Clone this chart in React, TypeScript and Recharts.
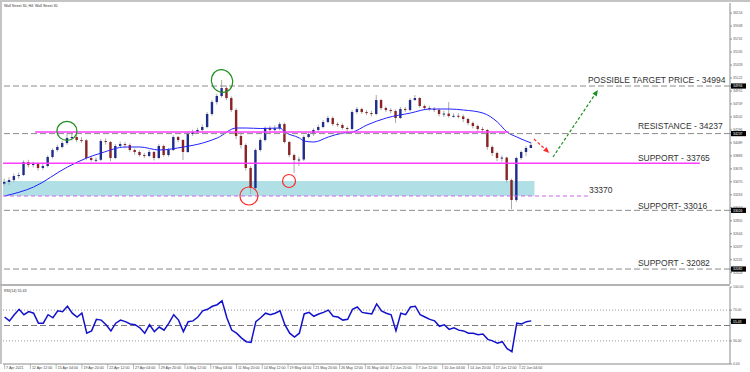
import {
  ComposedChart,
  Bar,
  Line,
  XAxis,
  YAxis,
  ReferenceLine,
  ReferenceArea,
  ReferenceDot,
} from "recharts";

// H4 candles, one every 3 bars
const opens = [
  33440, 33467, 33498, 33562, 33578, 33785, 33737, 33753, 33690, 33721,
  33865, 33976, 34024, 34087, 34167, 34183, 34135, 34130, 33849, 33817,
  33820, 34119, 34103, 33849, 34040, 34071, 34055, 33976, 33944, 33896,
  33881, 33944, 33849, 34040, 33896, 33976, 34183, 34135, 33944, 34230,
  34262, 34294, 34342, 34549, 34739, 34835, 34962, 34803, 34612, 34199,
  34055, 33690, 33371, 33976, 34135, 34326, 34294, 34320, 34389, 34103,
  33896, 33817, 33825, 34183, 34230, 34294, 34342, 34421, 34485, 34389,
  34374, 34326, 34310, 34580, 34628, 34580, 34564, 34549, 34771, 34644,
  34612, 34596, 34485, 34628, 34612, 34771, 34803, 34676, 34644, 34628,
  34612, 34549, 34555, 34517, 34520, 34510, 34469, 34405, 34358, 34310,
  34294, 34024, 33928, 33849, 33855, 33498, 33180, 33849, 33944, 34008,
];
const closes = [
  33467, 33498, 33562, 33578, 33785, 33737, 33753, 33690, 33721, 33865,
  33976, 34024, 34087, 34167, 34183, 34135, 34130, 33849, 33817, 33820,
  34119, 34103, 33849, 34040, 34071, 34055, 33976, 33944, 33896, 33881,
  33944, 33849, 34040, 33896, 33976, 34183, 34135, 33944, 34230, 34262,
  34294, 34342, 34549, 34739, 34835, 34962, 34803, 34612, 34199, 34055,
  33690, 33371, 33976, 34135, 34326, 34294, 34320, 34389, 34103, 33896,
  33817, 33825, 34183, 34230, 34294, 34342, 34421, 34485, 34389, 34374,
  34326, 34310, 34580, 34628, 34580, 34564, 34549, 34771, 34644, 34612,
  34596, 34485, 34628, 34612, 34771, 34803, 34676, 34644, 34628, 34612,
  34549, 34555, 34517, 34520, 34510, 34469, 34405, 34358, 34310, 34294,
  34024, 33928, 33849, 33855, 33498, 33180, 33849, 33944, 34008, 34055,
];
const highs = [
  33520, 33540, 33600, 33620, 33810, 33820, 33790, 33780, 33760, 33890,
  34000, 34060, 34120, 34240, 34262, 34220, 34180, 34150, 33880, 33860,
  34150, 34160, 34120, 34070, 34110, 34100, 34080, 34000, 33970, 33930,
  33980, 33960, 34070, 34060, 34010, 34210, 34200, 34150, 34260, 34300,
  34330, 34380, 34580, 34770, 34870, 35089, 35000, 34830, 34640, 34230,
  34080, 33720, 34000, 34170, 34350, 34360, 34370, 34420, 34410, 34120,
  33920, 33870, 34210, 34260, 34320, 34380, 34450, 34520, 34510, 34420,
  34400, 34350, 34610, 34660, 34650, 34610, 34600, 34851, 34790, 34670,
  34640, 34620, 34660, 34660, 34800, 34851, 34820, 34700, 34680, 34660,
  34640, 34600, 34739, 34560, 34560, 34540, 34490, 34430, 34380, 34340,
  34310, 34050, 33950, 33890, 33870, 33520, 33870, 33970, 34040, 34080,
];
const lows = [
  33410, 33419, 33470, 33520, 33560, 33700, 33700, 33650, 33660, 33700,
  33840, 33950, 34000, 34060, 34130, 34100, 34090, 33820, 33790, 33780,
  33800, 34060, 33800, 33830, 34010, 34000, 33950, 33900, 33870, 33850,
  33860, 33810, 33830, 33870, 33870, 33960, 34100, 33817, 33930, 34200,
  34240, 34270, 34320, 34520, 34700, 34810, 34770, 34580, 34150, 34000,
  33650, 33280, 33340, 33950, 34110, 34250, 34270, 34290, 34080, 33860,
  33610, 33720, 33800, 34160, 34200, 34270, 34320, 34400, 34360, 34340,
  34300, 34270, 34290, 34550, 34550, 34530, 34510, 34530, 34610, 34580,
  34560, 34405, 34470, 34580, 34590, 34760, 34650, 34610, 34600, 34580,
  34510, 34500, 34490, 34490, 34480, 34420, 34370, 34320, 34280, 34250,
  33980, 33880, 33800, 33790, 33460, 33037, 33150, 33820, 33880, 34020,
];

// moving average (sampled)
const maBars = [
  0, 18, 39, 51, 60, 75, 84, 96, 111, 123, 132, 144, 150, 159, 171, 174, 183,
  186, 192, 201, 210, 216, 225, 237, 252, 264, 276, 285, 297, 306, 312, 318, 327,
];
const maVals = [
  33244, 33387, 33705, 33849, 33928, 34024, 34024, 33976, 34024, 34087, 34167,
  34326, 34326, 34318, 34326, 34262, 34167, 34119, 34103, 34183, 34246, 34262,
  34374, 34485, 34564, 34628, 34628, 34612, 34564, 34421, 34262, 34183, 34087,
];

const rsi = [
  61, 56, 64, 71, 64, 68, 66, 53, 53, 64,
  60, 69, 68, 75, 66, 61, 66, 40, 43, 58,
  57, 51, 43, 53, 57, 55, 52, 51, 47, 40,
  51, 42, 48, 44, 53, 64, 57, 42, 55, 56,
  61, 69, 71, 75, 77, 82, 60, 44, 40, 34,
  29, 28, 55, 60, 66, 64, 66, 69, 51, 40,
  35, 40, 65, 67, 62, 65, 67, 70, 62, 61,
  57, 58, 71, 74, 67, 66, 65, 78, 69, 66,
  64, 43, 66, 64, 74, 75, 64, 61, 58, 56,
  49, 51, 45, 47, 44, 43, 40, 40, 38, 39,
  32, 30, 27, 29, 20, 16, 53, 52, 55, 56,
];
const rsiNow = 55.43;

const xTicks = [
  0, 16, 32, 48, 64, 80, 96, 112, 128, 144, 160, 176, 192, 208, 224, 240, 256,
  272, 288, 304, 320,
];
const xLabels = [
  "7 Apr 2021", "12 Apr 12:00", "15 Apr 04:00", "19 Apr 20:00", "22 Apr 12:00",
  "27 Apr 04:00", "29 Apr 20:00", "4 May 12:00", "7 May 04:00", "11 May 20:00",
  "14 May 12:00", "19 May 04:00", "21 May 20:00", "26 May 12:00", "31 May 04:00",
  "2 Jun 20:00", "7 Jun 12:00", "10 Jun 04:00", "14 Jun 20:00", "17 Jun 12:00",
  "22 Jun 04:00",
];

const priceTicks = [
  36154, 35948, 35741, 35535, 35328, 35122, 34915, 34709, 34502, 34296, 34089,
  33883, 33676, 33470, 33263, 33057, 32850, 32644, 32437, 32231, 32024,
];
const levels = [34994, 34237, 33016, 32082];

const rows = closes.map((c, i) => {
  const k = maBars.indexOf(i * 3);
  return {
    bar: i * 3,
    open: opens[i],
    high: highs[i],
    low: lows[i],
    close: c,
    ma: k >= 0 ? maVals[k] : null,
  };
});
const rsiRows = rsi.map((v, i) => ({ bar: i * 3, rsi: v }));

const FONT = "'Liberation Sans', Arial, sans-serif";
const X_DOMAIN = [-1, 450.4];

function Candle(props: any) {
  const { x, y, width, height, payload } = props;
  if (x == null || y == null || !height) return null;
  const top = Math.min(y, y + height);
  const h = Math.abs(height);
  const k = h / (payload.high - payload.low || 1);
  const cx = x + width / 2;
  const yo = top + (payload.high - payload.open) * k;
  const yc = top + (payload.high - payload.close) * k;
  const up = payload.close >= payload.open;
  return (
    <g>
      <line x1={cx} x2={cx} y1={top} y2={top + h} stroke="#aaaaaa" strokeWidth={1} />
      <rect
        x={cx - 1.2}
        y={Math.min(yo, yc)}
        width={2.4}
        height={Math.max(1, Math.abs(yc - yo))}
        fill={up ? "#1e2c8a" : "#8a2323"}
      />
    </g>
  );
}

function PriceTick(props: any) {
  const { x, y, payload } = props;
  const v = payload.value;
  const boxed = levels.includes(v);
  return (
    <g>
      {boxed && <rect x={x - 1} y={y - 2.6} width={15} height={5.2} fill="#000" />}
      <text x={x + 1} y={y} dy={1.2} fontSize={3.4} fontFamily={FONT} fill={boxed ? "#fff" : "#555"}>
        {v}
      </text>
    </g>
  );
}

function RsiTick(props: any) {
  const { x, y, payload } = props;
  const v = payload.value;
  const boxed = v === rsiNow;
  return (
    <g>
      {boxed && <rect x={x - 1} y={y - 2.6} width={15} height={5.2} fill="#000" />}
      <text x={x + 1} y={y} dy={1.2} fontSize={3.4} fontFamily={FONT} fill={boxed ? "#fff" : "#555"}>
        {v.toFixed(2)}
      </text>
    </g>
  );
}

function TimeTick(props: any) {
  const { x, y, payload } = props;
  const label = xLabels[xTicks.indexOf(payload.value)];
  return (
    <g>
      <line x1={x} x2={x} y1={y} y2={y + 5} stroke="#8a8a8a" strokeWidth={0.6} />
      <text x={x + 1.5} y={y + 4.6} fontSize={3.6} fontFamily={FONT} fill="#444">
        {label}
      </text>
    </g>
  );
}

const arrow = (color: string) => (p: any) => {
  const { x1, y1, x2, y2 } = p;
  const a = Math.atan2(y2 - y1, x2 - x1);
  const len = 6;
  const w = 2.6;
  const bx = x2 - len * Math.cos(a);
  const by = y2 - len * Math.sin(a);
  const pts = [
    `${x2},${y2}`,
    `${bx + w * Math.sin(a)},${by - w * Math.cos(a)}`,
    `${bx - w * Math.sin(a)},${by + w * Math.cos(a)}`,
  ].join(" ");
  return (
    <g>
      <line x1={x1} y1={y1} x2={bx} y2={by} stroke={color} strokeWidth={1.2} strokeDasharray="3 2" />
      <polygon points={pts} fill={color} />
    </g>
  );
};

const ellipse = (color: string, rx: number, ry: number, rot = 0) => (p: any) => (
  <ellipse
    cx={p.cx}
    cy={p.cy}
    rx={rx}
    ry={ry}
    fill="none"
    stroke={color}
    strokeWidth={1.2}
    transform={`rotate(${rot} ${p.cx} ${p.cy})`}
  />
);

const note = (text: string) => (p: any) => (
  <text x={p.cx} y={p.cy} fontSize={8.5} fontFamily={FONT} fill="#333">
    {text}
  </text>
);

const GREEN = "#1f8f1f";
const RED = "#ff2a2a";
const GREY = "#8c8c8c";
const MAGENTA = "#ff3cff";

export default function App() {
  return (
    <div
      style={{
        position: "absolute",
        left: 0,
        top: 0,
        width: 750,
        height: 372,
        background: "#fff",
        overflow: "hidden",
      }}
    >
      <div style={{ position: "absolute", left: 0, top: 0 }}>
        <ComposedChart
          width={750}
          height={287}
          data={rows}
          margin={{ top: 3, right: 0, bottom: 3, left: 3 }}
        >
          <XAxis type="number" dataKey="bar" domain={X_DOMAIN} hide allowDataOverflow />
          <YAxis
            orientation="right"
            width={20}
            domain={[31844, 36315]}
            ticks={[...priceTicks, ...levels]}
            tick={<PriceTick />}
            interval={0}
            tickSize={2}
            tickMargin={0}
            axisLine={{ stroke: "#8a8a8a" }}
            tickLine={{ stroke: "#8a8a8a" }}
            allowDataOverflow
          />

          <ReferenceArea x1={-1} x2={329} y1={33244} y2={33483} fill="#b0e0e6" fillOpacity={1} stroke="none" />

          <Bar
            dataKey={(d: any) => [d.low, d.high]}
            barSize={4}
            shape={Candle}
            isAnimationActive={false}
          />
          <Line
            dataKey="ma"
            type="monotone"
            stroke="#2323ff"
            strokeWidth={1}
            dot={false}
            connectNulls
            isAnimationActive={false}
          />

          {levels.map((v) => (
            <ReferenceLine key={v} y={v} stroke={GREY} strokeDasharray="6 3" />
          ))}
          <ReferenceLine
            segment={[{ x: 19, y: 34262 }, { x: 313, y: 34262 }]}
            stroke={MAGENTA}
            strokeWidth={1.6}
          />
          <ReferenceLine
            segment={[{ x: -1, y: 33765 }, { x: 431.7, y: 33765 }]}
            stroke={MAGENTA}
            strokeWidth={1.6}
          />
          <ReferenceLine
            segment={[{ x: -1, y: 33244 }, { x: 363.4, y: 33244 }]}
            stroke="#cc66ee"
            strokeDasharray="4 3"
          />

          <ReferenceLine
            segment={[{ x: 340.5, y: 33865 }, { x: 368.4, y: 34931 }]}
            shape={arrow(GREEN)}
          />
          <ReferenceLine
            segment={[{ x: 328.7, y: 34150 }, { x: 338.2, y: 33930 }]}
            shape={arrow(RED)}
          />

          <ReferenceDot x={38.7} y={34279} shape={ellipse(GREEN, 10, 9.5)} />
          <ReferenceDot x={135} y={35074} shape={ellipse(GREEN, 10.5, 11.5, -25)} />
          <ReferenceDot x={151.7} y={33244} shape={ellipse(RED, 9, 9)} />
          <ReferenceDot x={176.6} y={33483} shape={ellipse(RED, 6.5, 6.5)} />

          <ReferenceDot x={362.2} y={35050} shape={note("POSSIBLE TARGET PRICE - 34994")} />
          <ReferenceDot x={393.2} y={34310} shape={note("RESISTANCE - 34237")} />
          <ReferenceDot x={393.2} y={33801} shape={note("SUPPORT - 33765")} />
          <ReferenceDot x={362.8} y={33292} shape={note("33370")} />
          <ReferenceDot x={393.2} y={33038} shape={note("SUPPORT- 33016")} />
          <ReferenceDot x={393.2} y={32131} shape={note("SUPPORT - 32082")} />
        </ComposedChart>
      </div>

      <div style={{ position: "absolute", left: 0, top: 285 }}>
        <ComposedChart
          width={750}
          height={87}
          data={rsiRows}
          margin={{ top: 2, right: 0, bottom: 0, left: 3 }}
        >
          <XAxis
            type="number"
            dataKey="bar"
            domain={X_DOMAIN}
            ticks={xTicks}
            tick={<TimeTick />}
            interval={0}
            height={8}
            tickSize={0}
            tickMargin={0}
            axisLine={{ stroke: "#8a8a8a" }}
            tickLine={false}
            allowDataOverflow
          />
          <YAxis
            orientation="right"
            width={20}
            domain={[0, 100]}
            ticks={[0, 30, 70, 100, rsiNow]}
            tick={<RsiTick />}
            interval={0}
            tickSize={2}
            tickMargin={0}
            axisLine={{ stroke: "#8a8a8a" }}
            tickLine={{ stroke: "#8a8a8a" }}
          />
          <ReferenceLine y={70} stroke="#9a9a9a" strokeDasharray="1 2" />
          <ReferenceLine y={50} stroke="#7a7a7a" strokeDasharray="6 3" />
          <ReferenceLine y={30} stroke="#9a9a9a" strokeDasharray="1 2" />
          <Line
            dataKey="rsi"
            type="linear"
            stroke="#1212cc"
            strokeWidth={1.5}
            dot={false}
            isAnimationActive={false}
          />
        </ComposedChart>
      </div>

      {/* window frame */}
      <div style={{ position: "absolute", left: 0, top: 0, width: 750, height: 2, background: "#c4c4c4" }} />
      <div style={{ position: "absolute", left: 0, top: 0, width: 2, height: 364, background: "#c4c4c4" }} />
      <div style={{ position: "absolute", left: 0, top: 284, width: 730, height: 2, background: "#b4b4b4" }} />

      <svg
        width={750}
        height={372}
        style={{ position: "absolute", left: 0, top: 0, pointerEvents: "none" }}
      >
        <text x={4} y={7} fontSize={3.6} fontFamily={FONT} fill="#333">
          Wall Street 30, H4: Wall Street 30
        </text>
        <text x={4} y={292} fontSize={3.6} fontFamily={FONT} fill="#333">
          RSI(14) {rsiNow.toFixed(2)}
        </text>
      </svg>
    </div>
  );
}
